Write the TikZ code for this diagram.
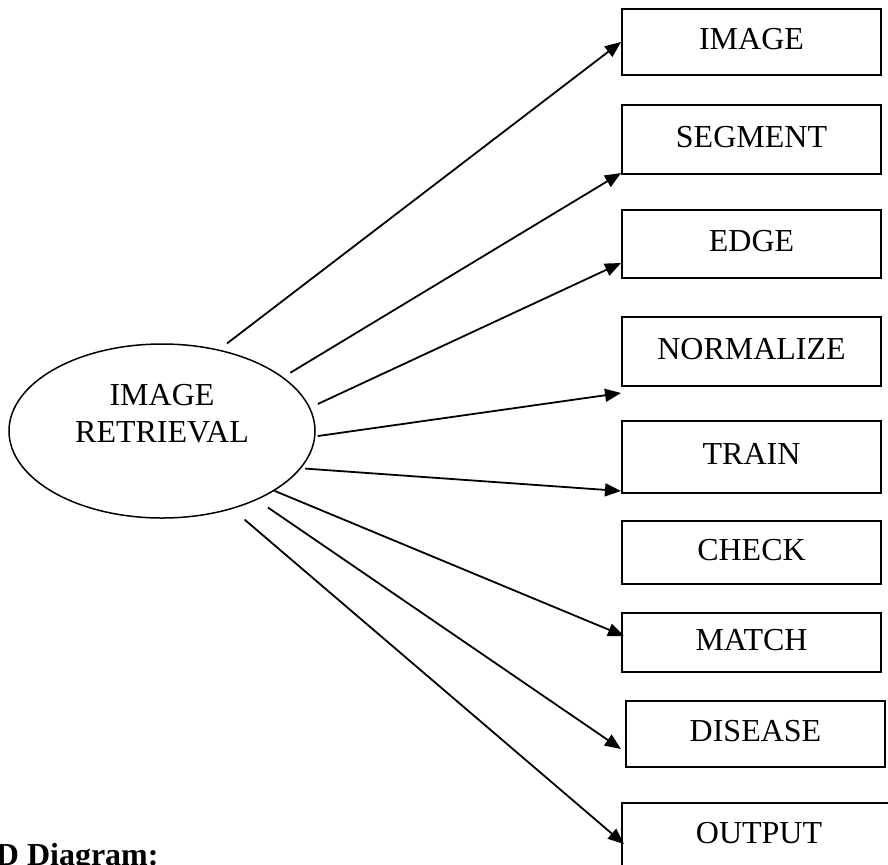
\documentclass[tikz,border=0pt]{standalone}
\usepackage{fontspec}
\setmainfont{Liberation Serif}
\usetikzlibrary{shapes.geometric}
\usetikzlibrary{arrows.meta}

\begin{document}
\begin{tikzpicture}[x=0.5pt, y=-0.5pt, line width=.9pt, font=\fontsize{16}{18.5}\selectfont,
  box/.style={draw, line width=1pt, minimum width=129.5pt, inner sep=0pt, text height=10.6pt, text depth=3pt},
  link/.style={-{Triangle[length=8pt, width=6.5pt]}}]
  \path[use as bounding box] (0,0) rectangle (888,864);
  \clip (0,0) rectangle (888,864);
  \node[ellipse, draw, line width=.75pt, minimum width=153pt, minimum height=87pt, inner sep=0pt] (retrieval) at (162,431) {};
  \node[align=center, inner sep=0pt] (retrievaltext) at (162,413.5) {IMAGE\\RETRIEVAL};
  \node[box, minimum height=33pt] (image) at (751.5,42) {IMAGE};
  \node[box, minimum height=34.5pt] (segment) at (751.5,139.5) {SEGMENT};
  \node[box, minimum height=34pt] (edge) at (751.5,244) {EDGE};
  \node[box, minimum height=34.5pt] (normalize) at (751.5,351.5) {NORMALIZE};
  \node[box, minimum height=36pt] (train) at (751.5,457) {TRAIN};
  \node[box, minimum height=31.5pt] (check) at (751.5,552.5) {CHECK};
  \node[box, minimum height=29.5pt] (match) at (751.5,642.5) {MATCH};
  \node[box, minimum height=33pt] (disease) at (755.5,734) {DISEASE};
  \node[box, minimum width=137pt, minimum height=33pt] (output) at (759,836) {OUTPUT};
  \node[anchor=base west, inner sep=0pt, font=\fontsize{16}{18.5}\selectfont\bfseries] (caption) at (-5,865) {D Diagram:};
  \path[draw, link, shorten <=5pt] (retrieval.55.3) -- (image.west);
  \path[draw, link, shorten <=4.1pt] (retrieval.24.7) -- ([yshift=1pt]segment.south west);
  \path[draw, link, shorten <=4.25pt] (retrieval.9.9) -- ([yshift=8pt]edge.south west);
  \path[draw, link, shorten <=1.15pt] (retrieval.-2) -- ([yshift=-3pt]normalize.south west);
  \path[draw, link, shorten <=2pt] (retrieval.-15.8) -- ([yshift=1.5pt]train.south west);
  \path[draw, link] (retrieval.-28.6) -- ([shift={(1.5pt,-12pt)}]match.north west);
  \path[draw, link, shorten <=6.6pt] (retrieval.-36.1) -- ([shift={(-2pt,9.5pt)}]disease.south west);
  \path[draw, link, shorten <=8.1pt] (retrieval.-48) -- ([shift={(1.5pt,-21pt)}]output.north west);
\end{tikzpicture}
\end{document}
